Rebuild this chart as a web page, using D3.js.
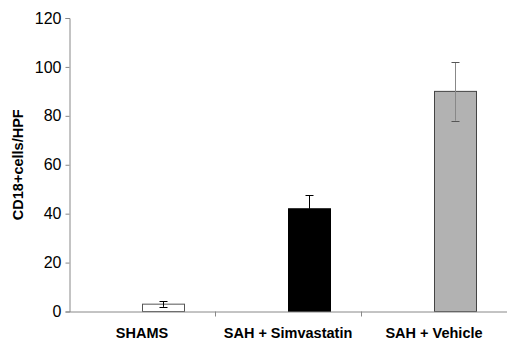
<!DOCTYPE html>
<html>
<head>
<meta charset="utf-8">
<script src="https://cdn.jsdelivr.net/npm/d3@7"></script>
<style>
  body { margin: 0; background: #fff; }
  svg { display: block; font-family: "Liberation Sans", Arial, sans-serif; }
</style>
</head>
<body>
<div id="chart"></div>
<script>
// data ************************************************************
var groups = ["SHAMS", "SAH + Simvastatin", "SAH + Vehicle"];
var means = [3, 42, 90];
var errors = [1.1, 5.6, 12];
var fills = ["#ffffff", "#000000", "#b2b2b2"];
var strokes = ["#555555", "#000000", "#444444"];
var yTicks = [0, 20, 40, 60, 80, 100, 120];

// sizes ************************************************************
var width = 507, height = 341;
var margin = { top: 18, right: 0, bottom: 29, left: 69 };
var barWidth = 42;

var svg = d3.select("#chart").append("svg")
  .attr("width", width)
  .attr("height", height);

var x = d3.scaleBand()
  .domain(groups)
  .range([margin.left, width - margin.right])
  .padding(0);

var y = d3.scaleLinear()
  .domain([0, 120])
  .range([height - margin.bottom - 0.5, margin.top]);

// bars ************************************************************
svg.selectAll(".bar")
  .data(groups)
  .enter().append("rect")
  .attr("class", "bar")
  .attr("x", function(d) { return x(d) + x.bandwidth() / 2 + 0.5; })
  .attr("y", function(d, i) { return y(means[i]); })
  .attr("width", barWidth)
  .attr("height", function(d, i) { return y(0) - y(means[i]); })
  .attr("fill", function(d, i) { return fills[i]; })
  .attr("stroke", function(d, i) { return strokes[i]; })
  .attr("stroke-width", 1);

// error bars ************************************************************
var err = svg.selectAll(".err")
  .data(groups)
  .enter().append("g")
  .attr("class", "err")
  .attr("stroke", function(d, i) { return i === 2 ? "#555" : "#000"; })
  .attr("stroke-width", 1);

function cx(d) { return Math.round(x(d) + x.bandwidth() / 2 + barWidth / 2) + 0.5; }

err.append("line")
  .attr("x1", cx).attr("x2", cx)
  .attr("y1", function(d, i) { return y(means[i] + errors[i]); })
  .attr("y2", function(d, i) { return i === 1 ? y(means[i]) : y(means[i] - errors[i]); })
  .attr("stroke", function(d, i) { return i === 2 ? "#888" : null; });

err.append("line")
  .attr("x1", function(d) { return cx(d) - 4; })
  .attr("x2", function(d) { return cx(d) + 4; })
  .attr("y1", function(d, i) { return Math.round(y(means[i] + errors[i])) + 0.5; })
  .attr("y2", function(d, i) { return Math.round(y(means[i] + errors[i])) + 0.5; });

err.filter(function(d, i) { return i !== 1; })
  .append("line")
  .attr("x1", function(d) { return cx(d) - 4; })
  .attr("x2", function(d) { return cx(d) + 4; })
  .attr("y1", function(d) { var i = groups.indexOf(d); return Math.round(y(means[i] - errors[i])) + 0.5; })
  .attr("y2", function(d) { var i = groups.indexOf(d); return Math.round(y(means[i] - errors[i])) + 0.5; });

// axes ************************************************************
var yAxis = svg.append("g")
  .attr("transform", "translate(" + (margin.left + 0.5) + ",0)")
  .call(d3.axisLeft(y).tickValues(yTicks).tickSize(4).tickPadding(4));

yAxis.selectAll("text")
  .attr("fill", "#000")
  .style("font-size", "16px");

var xAxis = svg.append("g")
  .attr("transform", "translate(0," + y(0) + ")")
  .call(d3.axisBottom(x).tickSize(0).tickPadding(16));

xAxis.selectAll("text")
  .attr("fill", "#000")
  .style("font-size", "14.5px")
  .style("font-weight", "bold");

// category separators
xAxis.selectAll(".sep")
  .data(groups.slice(1))
  .enter().append("line")
  .attr("class", "sep")
  .attr("x1", function(d) { return x(d) + 0.5; })
  .attr("x2", function(d) { return x(d) + 0.5; })
  .attr("y1", 0).attr("y2", 5)
  .attr("stroke", "#888");

svg.selectAll(".domain, .tick line").attr("stroke", "#888");

// title ************************************************************
svg.append("text")
  .attr("transform", "translate(23," + (y(60) + 0) + ") rotate(-90)")
  .attr("text-anchor", "middle")
  .style("font-size", "14.5px")
  .style("font-weight", "bold")
  .text("CD18+cells/HPF");
</script>
</body>
</html>
